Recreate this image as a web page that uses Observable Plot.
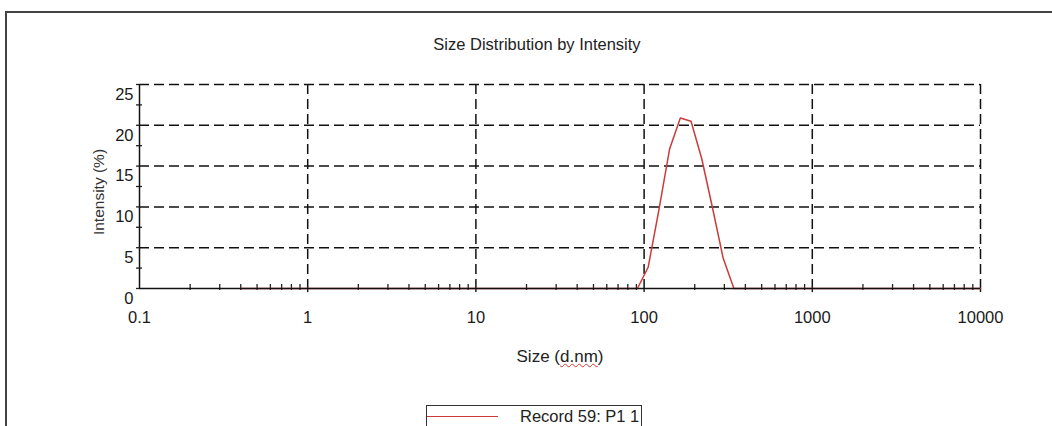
<!DOCTYPE html>
<html>
<head>
<meta charset="utf-8">
<script src="https://cdn.jsdelivr.net/npm/d3@7"></script>
<script src="https://cdn.jsdelivr.net/npm/@observablehq/plot@0.6"></script>
<style>
  html, body { margin: 0; padding: 0; background: #fff; overflow: hidden; }
  #wrap { position: relative; width: 1052px; height: 426px; overflow: hidden; font-family: "Liberation Sans", Arial, sans-serif; color: #222; }
  #frame { position: absolute; left: 5px; top: 11px; width: 1100px; height: 500px; border-top: 2px solid #444; border-left: 2px solid #444; }
  #title { position: absolute; left: 0; width: 1074px; top: 35px; text-align: center; font-size: 16.5px; }
  #xlabel { position: absolute; left: 0; width: 1120px; top: 347px; text-align: center; font-size: 17px; }
  #xlabel span { text-decoration: underline wavy #d33; text-decoration-thickness: 1px; }
  #ylabel { position: absolute; left: 99px; top: 192px; transform: translate(-50%, -50%) rotate(-90deg); font-size: 15.5px; white-space: nowrap; color: #333; }
  #legend { position: absolute; left: 426px; top: 405px; width: 214px; height: 40px; border: 1.5px solid #333; background: #fff; }
  #legend .sw { position: absolute; left: 0; top: 10px; width: 71px; height: 0; border-top: 1.5px solid #cc3b3b; }
  #legend .tx { position: absolute; left: 93px; top: 1px; font-size: 16.5px; white-space: nowrap; }
  #chart { position: absolute; left: 0; top: 0; }
  #chart svg text { font-size: 16.5px !important; font-family: "Liberation Sans", Arial, sans-serif !important; }
</style>
</head>
<body>
<div id="wrap">
  <div id="frame"></div>
  <div id="chart"></div>
  <div id="title">Size Distribution by Intensity</div>
  <div id="xlabel">Size (<span>d.nm</span>)</div>
  <div id="ylabel">Intensity (%)</div>
  <div id="legend"><div class="sw"></div><div class="tx">Record 59: P1 1</div></div>
</div>
<script>
// Size bins (d.nm) and intensity (%)
const sizes = [0.4, 91.28, 105.7, 122.4, 141.8, 164.2, 190.1, 220.2, 255.0, 295.3, 342.0, 10000];
const intensity = [0, 0, 2.6, 9.6, 17.1, 20.9, 20.5, 15.9, 9.9, 3.7, 0, 0];

const xMajorTicks = [0.1, 1, 10, 100, 1000, 10000];
const xGridTicks = [1, 10, 100, 1000, 10000];
const xMinorMultipliers = [2, 3, 4, 5, 6, 7, 8, 9];
const yTicks = [0, 5, 10, 15, 20, 25];
const yGridTicks = [5, 10, 15, 20, 25];
const yMinorTicks = [2.5, 7.5, 12.5, 17.5, 22.5];

const xMinorTicks = xGridTicks.flatMap(d => xMinorMultipliers.map(m => +(m * d / 10).toPrecision(3)));

const data = sizes.map((s, i) => ({size: s, value: intensity[i]}));

const chart = Plot.plot({
  width: 1052,
  height: 426,
  marginLeft: 139,
  marginRight: 72,
  marginTop: 84,
  marginBottom: 138,
  style: {fontFamily: "'Liberation Sans', Arial, sans-serif", fontSize: "16px", color: "#1a1a1a", background: "transparent"},
  x: {type: "log", domain: [0.1, 10000], label: null},
  y: {domain: [0, 25], label: null},
  marks: [
    Plot.gridY({ticks: yGridTicks, stroke: "#111", strokeOpacity: 1, strokeWidth: 1.5, strokeDasharray: "10,5"}),
    Plot.gridX({ticks: xGridTicks, stroke: "#111", strokeOpacity: 1, strokeWidth: 1.5, strokeDasharray: "10,5"}),
    Plot.axisX({ticks: xMinorTicks, tickSize: 6, dy: -4, text: null, stroke: "#222", strokeWidth: 1.3}),
    Plot.axisX({ticks: xGridTicks, tickSize: 4, text: null, stroke: "#222", strokeWidth: 1.5}),
    Plot.axisY({ticks: yMinorTicks, tickSize: 6, dx: 3, text: null, stroke: "#222", strokeWidth: 1.3}),
    Plot.axisY({ticks: yTicks, tickSize: 3, text: null, stroke: "#222", strokeWidth: 1.3}),
    Plot.axisX({ticks: xMajorTicks, tickSize: 0, tickPadding: 23, tickFormat: d => String(d), fontSize: 16.5, fill: "#1a1a1a"}),
    Plot.axisY({ticks: yTicks, tickSize: 0, tickPadding: 6, dy: 10, tickFormat: d => String(d), fontSize: 16.5, fill: "#1a1a1a"}),
    Plot.line(data, {x: "size", y: "value", stroke: "#cc3b3b", strokeWidth: 1.5}),
    Plot.ruleX([0.1], {stroke: "#111", strokeWidth: 1.5}),
    Plot.ruleY([0], {x1: 0.1, x2: 10000, stroke: "#111", strokeWidth: 1.5})
  ]
});
document.getElementById("chart").appendChild(chart);
</script>
</body>
</html>
